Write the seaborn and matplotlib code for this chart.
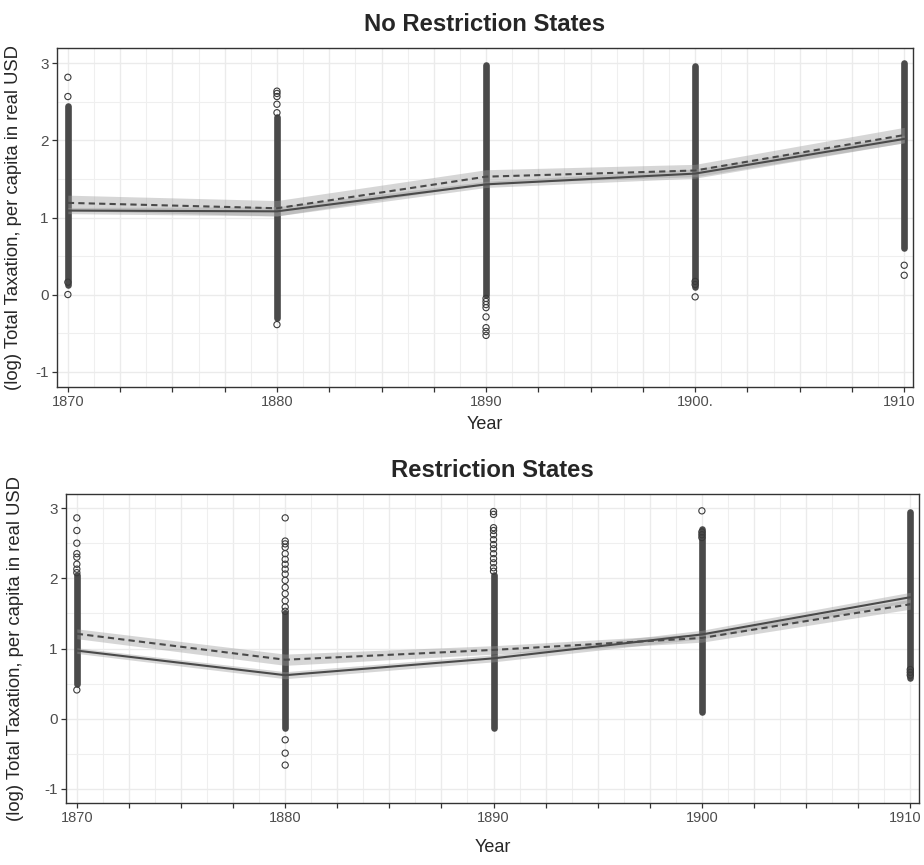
import numpy as np
import pandas as pd
import matplotlib
matplotlib.use("Agg")
import matplotlib.pyplot as plt
import matplotlib.transforms as mtransforms
from matplotlib.ticker import MultipleLocator, FuncFormatter
import seaborn as sns

# ---------------- data ----------------
years = [1870, 1880, 1890, 1900, 1910]

# No Restriction States
nr_solid = [1.09, 1.08, 1.43, 1.57, 2.02]
nr_solid_se = [0.04, 0.06, 0.04, 0.06, 0.05]
nr_dashed = [1.19, 1.12, 1.53, 1.61, 2.07]
nr_dashed_se = [0.10, 0.10, 0.09, 0.08, 0.10]
nr_dense_low = [0.12, -0.30, -0.01, 0.10, 0.60]
nr_dense_high = [2.45, 2.31, 2.98, 2.97, 3.01]
nr_out_year = [1870, 1870, 1870, 1870,
               1880, 1880, 1880, 1880, 1880, 1880,
               1890, 1890, 1890, 1890, 1890, 1890, 1890, 1890,
               1900, 1900, 1900,
               1910, 1910]
nr_out_val = [2.82, 2.57, 0.16, 0.0,
              2.64, 2.61, 2.57, 2.47, 2.36, -0.39,
              -0.05, -0.09, -0.13, -0.17, -0.29, -0.43, -0.48, -0.53,
              0.13, 0.17, -0.03,
              0.38, 0.25]

# Restriction States
r_solid = [0.97, 0.62, 0.86, 1.20, 1.73]
r_solid_se = [0.04, 0.05, 0.05, 0.06, 0.07]
r_dashed = [1.21, 0.84, 0.98, 1.15, 1.63]
r_dashed_se = [0.07, 0.08, 0.06, 0.06, 0.07]
r_dense_low = [0.50, -0.13, -0.13, 0.09, 0.58]
r_dense_high = [2.04, 1.50, 2.04, 2.70, 2.94]
r_out_year = [1870] * 9 + [1880] * 18 + [1890] * 13 + [1900] * 4 + [1910] * 3
r_out_val = [2.86, 2.68, 2.50, 2.35, 2.30, 2.20, 2.13, 2.08, 0.41,
             2.86, 2.53, 2.49, 2.44, 2.35, 2.27, 2.20, 2.13, 2.06, 1.97, 1.87,
             1.78, 1.68, 1.59, 1.53, -0.30, -0.49, -0.66,
             2.95, 2.91, 2.72, 2.68, 2.62, 2.55, 2.48, 2.42, 2.35, 2.28, 2.22,
             2.15, 2.10,
             2.96, 2.66, 2.62, 2.58,
             0.62, 0.66, 0.70]

titles = ["No Restriction States", "Restriction States"]
x_tick_labels_top = {1870: "1870", 1880: "1880", 1890: "1890", 1900: "1900.", 1910: "1910"}
x_tick_labels_bottom = {1870: "1870", 1880: "1880", 1890: "1890", 1900: "1900", 1910: "1910"}
y_ticks = [-1, 0, 1, 2, 3]
y_label = "(log) Total Taxation, per capita in real USD"
x_label = "Year"

# ---------------- style ----------------
sns.set_style("white")
plt.rcParams["font.family"] = ["Liberation Sans", "DejaVu Sans"]
plt.rcParams["axes.unicode_minus"] = False

DARK = "#4A4A4A"
TICKC = "#4D4D4D"

fig = plt.figure(figsize=(9.24, 8.65), dpi=100)
ax_top = fig.add_axes([57 / 924, (865 - 387) / 865, (913 - 57) / 924, (387 - 48) / 865])
ax_bot = fig.add_axes([66 / 924, (865 - 803) / 865, (919 - 66) / 924, (803 - 494) / 865])


def draw_panel(ax, solid, solid_se, dashed, dashed_se, lo, hi, oy, ov, title, xlabels, ylab_x):
    s = np.array(solid); sse = np.array(solid_se)
    d = np.array(dashed); dse = np.array(dashed_se)
    # dense columns of observations
    vl = ax.vlines(years, lo, hi, colors=DARK, linewidth=4.8, zorder=3)
    vl.set_capstyle("round")
    # outlying observations
    df = pd.DataFrame({"Year": oy, "val": ov})
    sns.scatterplot(data=df, x="Year", y="val", ax=ax, marker="o", s=20,
                    color=DARK, edgecolor="#3A3A3A", linewidth=0.8, zorder=4, legend=False)
    ax.collections[-1].set_facecolor("none")
    # ribbons
    ax.fill_between(years, s - sse, s + sse, color="#9A9A9A", alpha=0.4, linewidth=0, zorder=5)
    ax.fill_between(years, d - dse, d + dse, color="#9A9A9A", alpha=0.4, linewidth=0, zorder=5)
    # lines
    sns.lineplot(x=years, y=solid, ax=ax, color=DARK, linewidth=1.5, zorder=6)
    sns.lineplot(x=years, y=dashed, ax=ax, color=DARK, linewidth=1.5, zorder=6,
                 linestyle=(0, (3, 2)))

    ax.set_xlim(1869.48, 1910.42)
    ax.set_ylim(-1.2, 3.2)
    ax.xaxis.set_major_locator(MultipleLocator(2.5))
    ax.xaxis.set_minor_locator(MultipleLocator(1.25))
    ax.xaxis.set_major_formatter(FuncFormatter(
        lambda v, p: xlabels.get(int(round(v)), "") if abs(v - round(v)) < 1e-6 and int(round(v)) % 10 == 0 else ""))
    ax.set_yticks(y_ticks)
    ax.yaxis.set_minor_locator(MultipleLocator(0.5))
    ax.yaxis.set_major_formatter(FuncFormatter(lambda v, p: "%d" % v))
    ax.grid(True, which="major", color="#EBEBEB", linewidth=1.0, zorder=0)
    ax.grid(True, which="minor", color="#EFEFEF", linewidth=0.8, zorder=0)
    ax.set_axisbelow(True)
    ax.tick_params(axis="both", which="major", length=3.5, width=0.9, color="#333333",
                   labelsize=10.5, labelcolor=TICKC, pad=2.5, direction="out",
                   bottom=True, left=True)
    ax.tick_params(axis="y", which="major", labelsize=11)
    ax.tick_params(axis="both", which="minor", length=0)
    for sp in ax.spines.values():
        sp.set_color("#333333")
        sp.set_linewidth(1.0)
    ax.set_title(title, fontsize=17.2, fontweight="bold", pad=12)
    ax.set_xlabel(x_label, fontsize=13)
    ax.set_ylabel(y_label, fontsize=13.3)
    ax.yaxis.set_label_coords(ylab_x, 0.5)
    return ax


draw_panel(ax_top, nr_solid, nr_solid_se, nr_dashed, nr_dashed_se, nr_dense_low, nr_dense_high,
           nr_out_year, nr_out_val, titles[0], x_tick_labels_top, -0.041)
draw_panel(ax_bot, r_solid, r_solid_se, r_dashed, r_dashed_se, r_dense_low, r_dense_high,
           r_out_year, r_out_val, titles[1], x_tick_labels_bottom, -0.049)
ax_top.xaxis.set_label_coords(0.5, -0.085)
ax_bot.xaxis.set_label_coords(0.5, -0.115)

# keep the right-most year label fully inside the canvas
fig.canvas.draw()
shift = mtransforms.ScaledTranslation(-5 / 100, 0, fig.dpi_scale_trans)
for ax in (ax_top, ax_bot):
    for tick in ax.xaxis.get_major_ticks():
        if tick.label1.get_text() == "1910":
            tick.label1.set_transform(tick.label1.get_transform() + shift)

fig.savefig("out.png", dpi=100)
